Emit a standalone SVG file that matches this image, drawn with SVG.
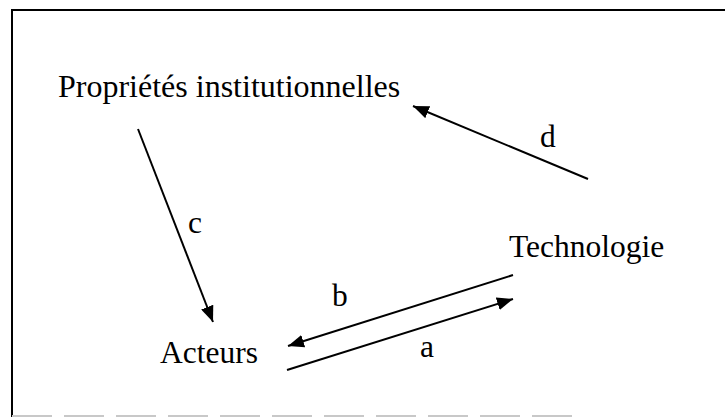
<svg xmlns="http://www.w3.org/2000/svg" width="725" height="418" viewBox="0 0 725 418">
<style>
  .lbl { font-family: "Liberation Serif", "Times New Roman", serif; font-size: 31.5px; fill: #000; }
  .conn { stroke: #000; stroke-width: 2; fill: none; }
</style>
<defs>
  <marker id="ah" markerUnits="userSpaceOnUse" markerWidth="17" markerHeight="13" refX="16" refY="6.5" orient="auto">
    <path d="M0,0 L16,6.5 L0,13 z" fill="#000"/>
  </marker>
</defs>
<rect width="725" height="418" fill="#fff"/>
<g id="frame">
  <line x1="12" y1="10" x2="725" y2="10" stroke="#000" stroke-width="2"/>
  <line x1="12" y1="9" x2="12" y2="417" stroke="#000" stroke-width="2"/>
  <line x1="12" y1="416" x2="580" y2="416" stroke="#c8c8c8" stroke-width="2" stroke-dasharray="40,12"/>
</g>
<g id="node-proprietes"><text class="lbl" x="58" y="97" style="font-size:32px">Propriétés institutionnelles</text></g>
<g id="node-technologie"><text class="lbl" x="509" y="257">Technologie</text></g>
<g id="node-acteurs"><text class="lbl" x="160" y="363">Acteurs</text></g>
<g id="connectors">
  <line class="conn" x1="588" y1="179" x2="413" y2="106" stroke-width="2.6" marker-end="url(#ah)"/>
  <line class="conn" x1="138" y1="129" x2="213" y2="322" marker-end="url(#ah)"/>
  <line class="conn" x1="513" y1="275" x2="288" y2="346" marker-end="url(#ah)"/>
  <line class="conn" x1="287" y1="370" x2="513" y2="299" stroke-width="2.4" marker-end="url(#ah)"/>
  <text class="lbl" x="540" y="147">d</text>
  <text class="lbl" x="188" y="233">c</text>
  <text class="lbl" x="332" y="306">b</text>
  <text class="lbl" x="420" y="357">a</text>
</g>
</svg>
